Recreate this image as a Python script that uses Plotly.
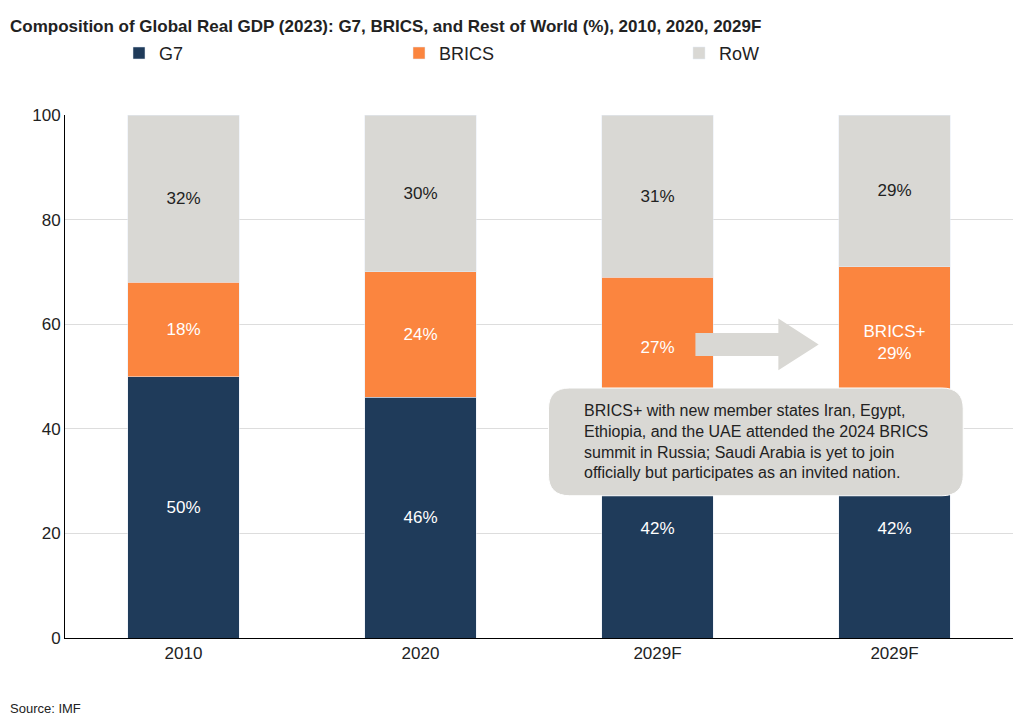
import plotly.graph_objects as go

categories = ["2010", "2020", "2029F", "2029F"]
g7 = [50, 46, 42, 42]
brics = [18, 24, 27, 29]
row = [32, 30, 31, 29]
brics_labels = ["18%", "24%", "27%", "BRICS+<br>29%"]

xs = list(range(len(categories)))
font = "Liberation Sans, Arial, sans-serif"
fig = go.Figure()
fig.add_bar(x=xs, y=g7, name="G7", marker_color="#1f3b5a", width=0.47,
            text=[f"{v}%" for v in g7], textposition="inside", insidetextanchor="middle",
            textfont=dict(color="white", size=17))
fig.add_bar(x=xs, y=brics, name="BRICS", marker_color="#fb853f", width=0.47,
            text=brics_labels, textposition="inside", insidetextanchor="middle",
            textfont=dict(color="white", size=17))
fig.add_bar(x=xs, y=row, name="RoW", marker_color="#d9d8d4", width=0.47,
            text=[f"{v}%" for v in row], textposition="inside", insidetextanchor="middle",
            textfont=dict(color="#222", size=17))

fig.add_shape(type="path", xref="x", yref="y",
              path="M 2.16 53.9 L 2.51 53.9 L 2.51 51.2 L 2.68 56.1 L 2.51 61.1 L 2.51 58.3 L 2.16 58.3 Z",
              fillcolor="#d9d8d4", line=dict(width=0))
x0, x1, y0, y1, rx, ry = 1.54, 3.29, 27.2, 47.8, 0.09, 4.0
path = (f"M {x0+rx} {y0} L {x1-rx} {y0} Q {x1} {y0} {x1} {y0+ry} L {x1} {y1-ry} Q {x1} {y1} {x1-rx} {y1} "
        f"L {x0+rx} {y1} Q {x0} {y1} {x0} {y1-ry} L {x0} {y0+ry} Q {x0} {y0} {x0+rx} {y0} Z")
fig.add_shape(type="path", xref="x", yref="y", path=path, fillcolor="#d9d8d4",
              line=dict(color="white", width=1))
fig.add_annotation(x=(x0+x1)/2, y=(y0+y1)/2, xref="x", yref="y", showarrow=False, align="left",
                   text="BRICS+ with new member states Iran, Egypt,<br>Ethiopia, and the UAE attended the 2024 BRICS<br>summit in Russia; Saudi Arabia is yet to join<br>officially but participates as an invited nation.",
                   font=dict(size=16, color="#222"))

fig.add_annotation(x=-57/948, y=1 + 100/523, xref="paper", yref="paper", xanchor="left", yanchor="top",
                   showarrow=False,
                   text="<b>Composition of Global Real GDP (2023): G7, BRICS, and Rest of World (%), 2010, 2020, 2029F</b>",
                   font=dict(size=17, color="#222"))
fig.add_annotation(x=-57/948, y=-80/523, xref="paper", yref="paper", xanchor="left", yanchor="bottom",
                   showarrow=False, text="Source: IMF", font=dict(size=13, color="#222"))

fig.update_layout(
    barmode="stack", width=1024, height=718, plot_bgcolor="white", paper_bgcolor="white",
    font=dict(family=font, color="#222"),
    margin=dict(l=57, r=19, t=107, b=88),
    legend=dict(orientation="h", x=0.5, xanchor="center", y=1.118, yanchor="middle",
                font=dict(size=18), entrywidth=235, traceorder="normal"),
    xaxis=dict(tickmode="array", tickvals=xs, ticktext=categories, range=[-0.5, 3.5],
               showline=True, linecolor="black", tickfont=dict(size=17), ticks=""),
    yaxis=dict(range=[0, 100], dtick=20, showgrid=True, gridcolor="#dddddd",
               showline=True, linecolor="black", tickfont=dict(size=17), zeroline=False),
)
fig.write_html("out.html")
